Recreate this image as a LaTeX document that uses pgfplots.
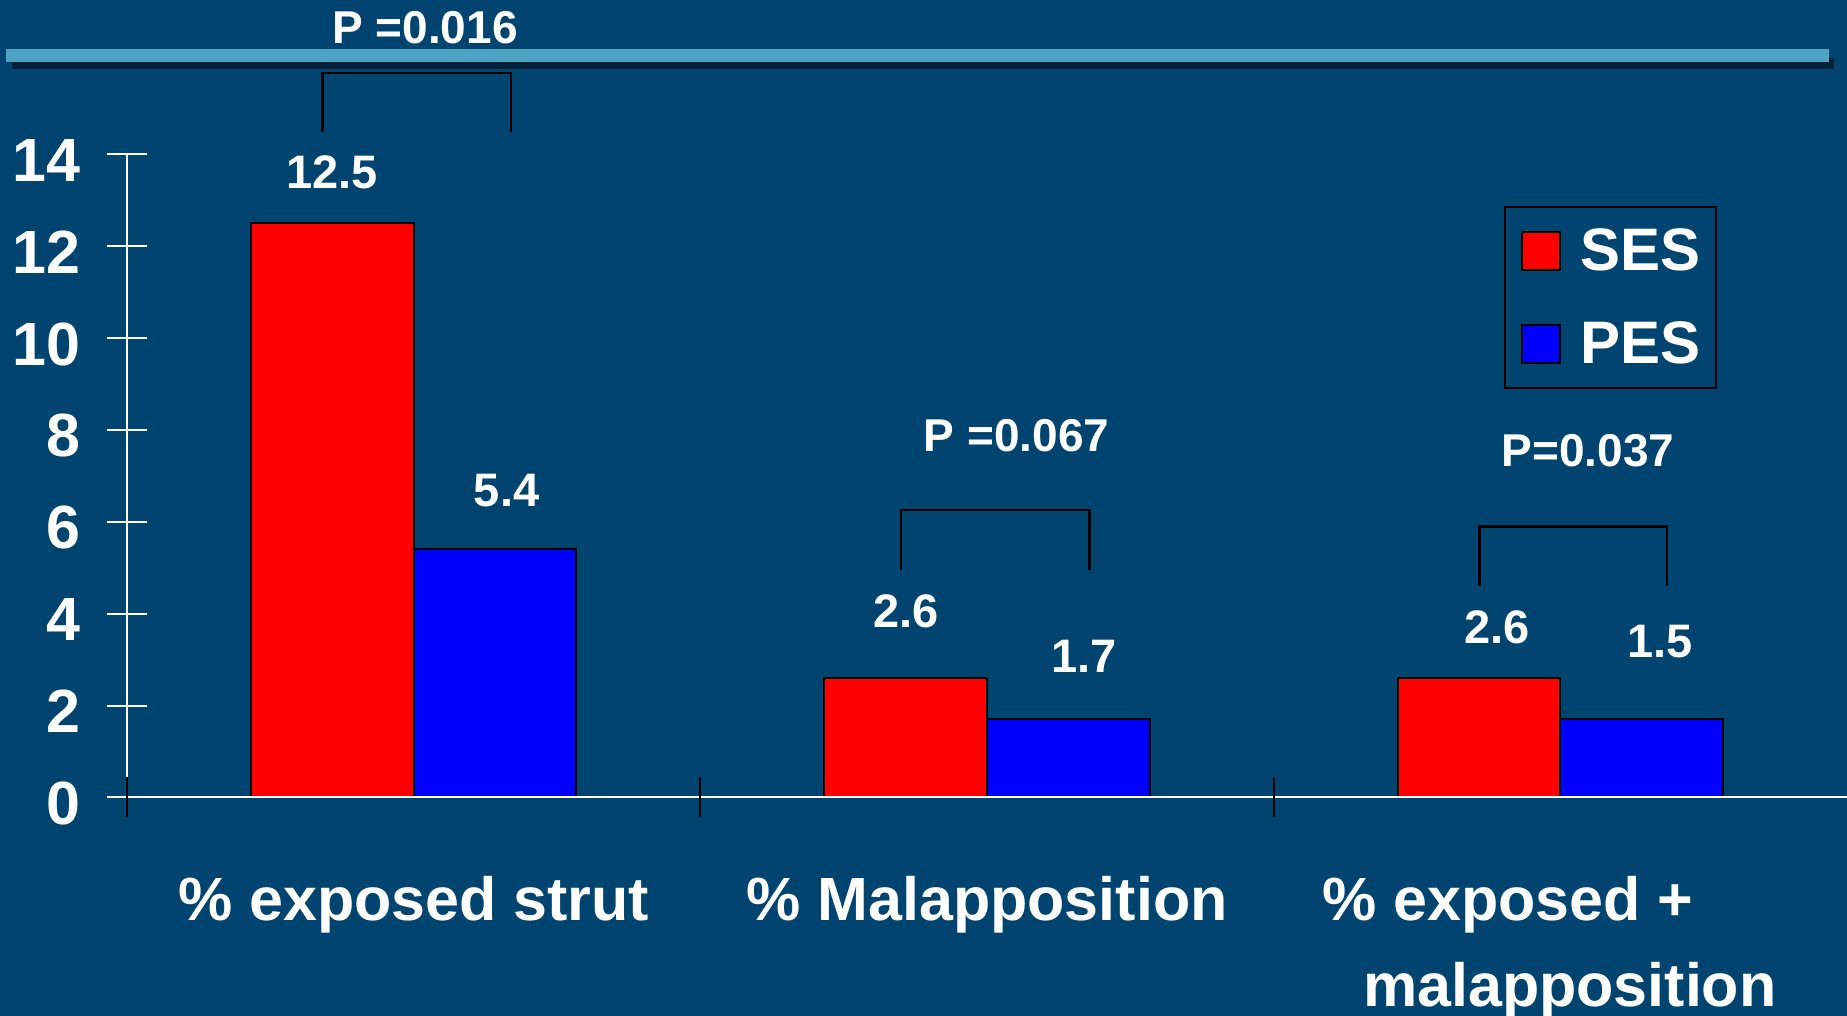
\documentclass[border=0pt]{standalone}
\usepackage{pgfplots}
\pgfplotsset{compat=1.18}
\usepackage{fontspec}
\setmainfont{Liberation Sans}
\definecolor{bg}{RGB}{1,68,111}
\definecolor{band}{RGB}{77,163,193}
\tikzset{
  lab/.style={font=\bfseries\fontsize{23.5}{28}\selectfont, text=white},
  plab/.style={font=\bfseries\fontsize{23}{28}\selectfont, text=white},
}
\pgfplotsset{sqlegend/.style={legend image code/.code={\draw[##1] (0pt,-9.5pt) rectangle (19pt,9.5pt);}}}
\begin{document}
\begin{tikzpicture}
\fill[bg] (0,0) rectangle (923.5pt,508pt);
\path[use as bounding box] (0,0) rectangle (923.5pt,508pt);
\fill[black,opacity=0.5] (6pt,473.5pt) rectangle (917pt,479pt);
\fill[band] (3pt,477pt) rectangle (914.5pt,483.5pt);
\begin{axis}[
  at={(63.5pt,109.25pt)}, anchor=south west,
  scale only axis, width=860pt, height=321.6pt,
  xmin=-0.5, xmax=2.5, ymin=0, ymax=14,
  axis x line=bottom, axis y line=left,
  axis line style={-, white, line width=1pt},
  axis on top,
  clip=false,
  ytick={0,2,...,14},
  ytick style={white, line width=1pt},
  major tick length=20pt, tick align=center,
  /pgf/number format/assume math mode=true,
  yticklabel style={font=\bfseries\fontsize{30.5}{36}\selectfont, text=white, inner sep=0pt, anchor=east, xshift=-13pt, yshift=-3pt},
  xtick={0,1,2},
  xticklabels={\% exposed strut, \% Malapposition, {\hspace*{9.4pt}\% exposed +\hspace*{62pt}\\\hspace*{9.4pt}malapposition}},
  xtick style={draw=none},
  xticklabel style={font=\bfseries\fontsize{30.5}{43}\selectfont, text=white, align=center, anchor=north, inner sep=0pt, yshift=-29.3pt},
  extra x ticks={-0.5,0.5,1.5},
  extra x tick labels={},
  extra x tick style={xtick style={draw=black, line width=1pt}},
  legend style={at={(0.8006,0.9196)}, anchor=north west, fill=bg, draw=black, line width=1pt, text=white,
    font=\bfseries\fontsize{30}{36}\selectfont, inner xsep=8pt, inner ysep=11pt, row sep=23.8pt, column sep=9.5pt,
    nodes={inner sep=0pt}},
  legend cell align=left,
]
\addplot[ybar, bar width=0.284, bar shift=-0.142, fill=red, draw=black, line width=1pt, sqlegend]
  coordinates {(0,12.5) (1,2.6) (2,2.6)};
\addlegendentry{SES}
\addplot[ybar, bar width=0.284, bar shift=0.142, fill=blue, draw=black, line width=1pt, sqlegend]
  coordinates {(0,5.4) (1,1.7) (2,1.7)};
\addlegendentry{PES}
\node[lab] at (axis cs:-0.142,13.6) {12.5};
\node[lab] at (axis cs:0.162,6.69) {5.4};
\node[lab] at (axis cs:0.859,4.06) {2.6};
\node[lab] at (axis cs:1.169,3.08) {1.7};
\node[lab] at (axis cs:1.890,3.71) {2.6};
\node[lab] at (axis cs:2.174,3.39) {1.5};
\node[plab] at (axis cs:0.0198,16.75) {P =0.016};
\node[plab] at (axis cs:1.0516,7.87) {P =0.067};
\node[plab] at (axis cs:2.048,7.54) {P=0.037};
\draw[black, line width=1.3pt] (axis cs:-0.1585,14.49) -- (axis cs:-0.1585,15.77) -- (axis cs:0.170,15.77) -- (axis cs:0.170,14.49);
\draw[black, line width=1.3pt] (axis cs:0.850,4.95) -- (axis cs:0.850,6.26) -- (axis cs:1.179,6.26) -- (axis cs:1.179,4.95);
\draw[black, line width=1.3pt] (axis cs:1.859,4.61) -- (axis cs:1.859,5.90) -- (axis cs:2.186,5.90) -- (axis cs:2.186,4.61);
\end{axis}
\end{tikzpicture}
\end{document}
